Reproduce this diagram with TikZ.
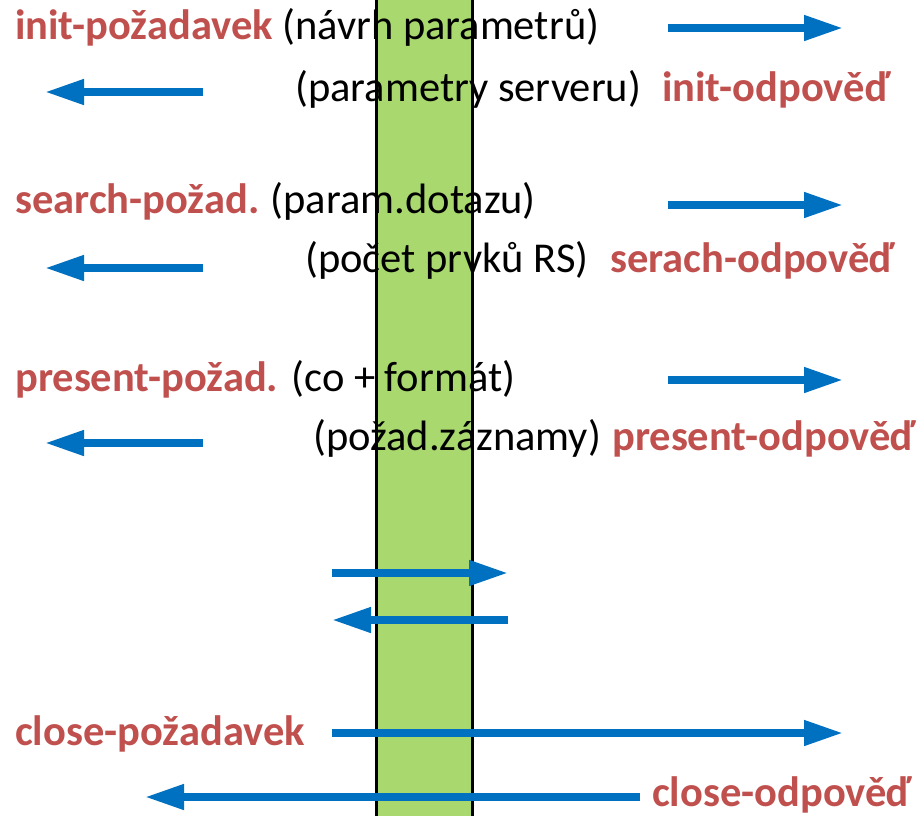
\documentclass[tikz,border=0pt]{standalone}
\usepackage{fontspec}
\setmainfont{Carlito}
\usetikzlibrary{arrows.meta,positioning}
\definecolor{zBlue}{RGB}{0,112,192}
\definecolor{zRed}{RGB}{192,80,77}
\definecolor{zGreen}{RGB}{168,216,110}

\tikzset{
  reqtext/.style={text=zRed, font=\fontsize{42.5}{50}\selectfont\bfseries, anchor=base west, inner sep=0pt},
  partext/.style={text=black, font=\fontsize{42.5}{50}\selectfont, anchor=base west, inner sep=0pt},
  msg/.style={zBlue, line width=7.5pt, -{Triangle[length=39pt,width=24pt]}},
}

\begin{document}
\begin{tikzpicture}[x=1pt,y=-1pt]
\useasboundingbox (0,0) rectangle (924,815);

% server column
\filldraw[fill=zGreen, draw=black, line width=3pt] (376,-10) rectangle (472,825);

% requests and replies
\node[reqtext] (initreq) at (15,39) {init-požadavek};
\node[partext, right=9pt of initreq.base east, anchor=base west] (initpar) {(návrh parametrů)};
\node[partext] (initsrv) at (295,101) {(parametry serveru)};
\node[reqtext] (initrep) at (662,101) {init-odpověď};

\node[reqtext] (searchreq) at (15,213) {search-požad.};
\node[partext, right=11pt of searchreq.base east, anchor=base west] (searchpar) {(param.dotazu)};
\node[partext] (searchsrv) at (305,272) {(počet prvků RS)};
\node[reqtext] (searchrep) at (610,272) {serach-odpověď};

\node[reqtext] (presreq) at (15,391) {present-požad.};
\node[partext, right=13pt of presreq.base east, anchor=base west] (prespar) {(co + formát)};
\node[partext] (pressrv) at (313,450) {(požad.záznamy)};
\node[reqtext] (presrep) at (612,450) {present-odpověď};

\node[reqtext] (closereq) at (15,745) {close-požadavek};
\node[reqtext] (closerep) at (652,806) {close-odpověď};

% arrow ends
\foreach \n/\y/\z in {init/28/92, search/205/268, pres/380/443}{
  \coordinate (\n-a) at (668,\y);
  \coordinate (\n-b) at (843,\y);
  \coordinate (\n-c) at (203,\z);
  \coordinate (\n-d) at (45,\z);
}
\coordinate (mid-a) at (332,573);
\coordinate (mid-b) at (508,573);
\coordinate (mid-c) at (508,620);
\coordinate (mid-d) at (332,620);
\coordinate (close-a) at (332,733);
\coordinate (close-b) at (843,733);
\coordinate (close-c) at (640,797);
\coordinate (close-d) at (145,797);

% messages
\foreach \n in {init,search,pres,mid,close}{
  \draw[msg] (\n-a) -- (\n-b);
  \draw[msg] (\n-c) -- (\n-d);
}
\end{tikzpicture}
\end{document}
